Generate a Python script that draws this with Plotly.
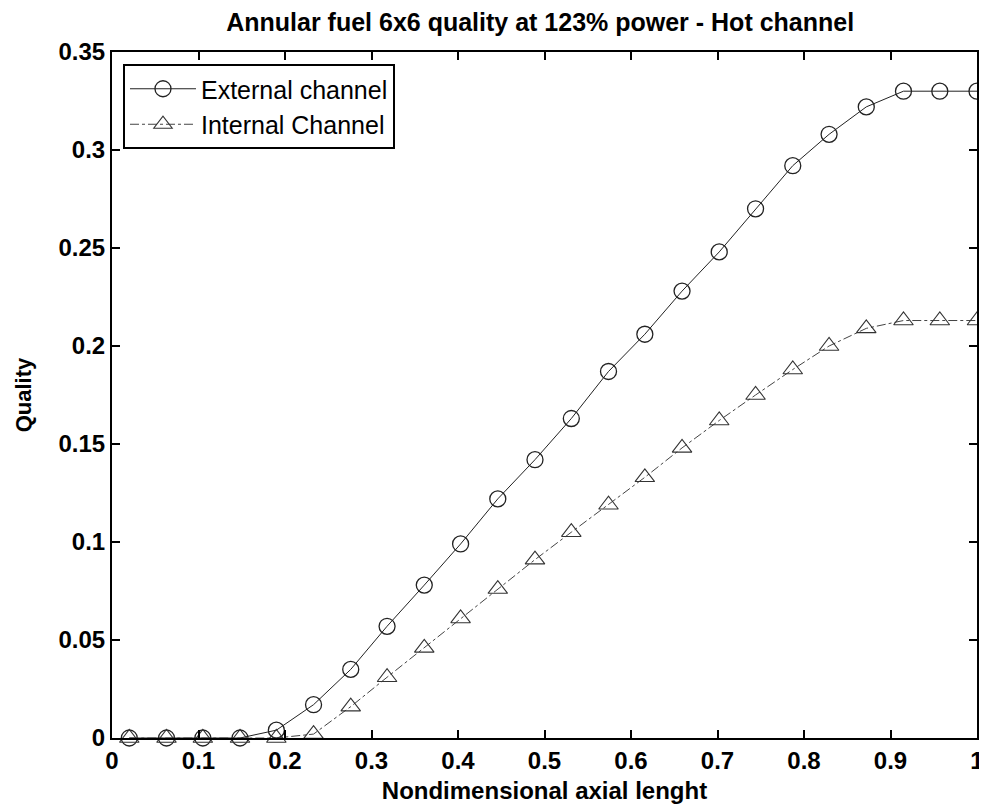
import plotly.graph_objects as go

# axial positions (nondimensional)
axial_pos = [0.020, 0.063, 0.105, 0.148, 0.190, 0.233, 0.276, 0.318, 0.361, 0.403,
             0.446, 0.489, 0.531, 0.574, 0.616, 0.659, 0.702, 0.744, 0.787, 0.829,
             0.872, 0.915, 0.957, 1.000]

quality_external = [0.0, 0.0, 0.0, 0.0, 0.004, 0.017, 0.035, 0.057, 0.078, 0.099,
                    0.122, 0.142, 0.163, 0.187, 0.206, 0.228, 0.248, 0.270, 0.292, 0.308,
                    0.322, 0.330, 0.330, 0.330]

quality_internal = [0.0, 0.0, 0.0, 0.0, 0.0, 0.002, 0.016, 0.031, 0.046, 0.061,
                    0.076, 0.091, 0.105, 0.119, 0.133, 0.148, 0.162, 0.175, 0.188, 0.200,
                    0.209, 0.213, 0.213, 0.213]

x_ticks = [0, 0.1, 0.2, 0.3, 0.4, 0.5, 0.6, 0.7, 0.8, 0.9, 1]
x_tick_text = ["0", "0.1", "0.2", "0.3", "0.4", "0.5", "0.6", "0.7", "0.8", "0.9", "1"]
y_ticks = [0, 0.05, 0.1, 0.15, 0.2, 0.25, 0.3, 0.35]
y_tick_text = ["0", "0.05", "0.1", "0.15", "0.2", "0.25", "0.3", "0.35"]

fig = go.Figure()

fig.add_trace(go.Scatter(
    x=axial_pos, y=quality_external, name="External channel",
    mode="lines+markers", cliponaxis=False,
    line=dict(color="#222222", width=1),
    marker=dict(symbol="circle-open", size=16, color="#222222", line=dict(width=1.3)),
))

fig.add_trace(go.Scatter(
    x=axial_pos, y=quality_internal, name="Internal Channel",
    mode="lines+markers", cliponaxis=False,
    line=dict(color="#444444", width=1, dash="dashdot"),
    marker=dict(symbol="triangle-up-open", size=17, color="#333333", line=dict(width=1.1)),
))

# the page body keeps an 8px margin, so the figure is shrunk to avoid scrollbars
fig.update_layout(
    width=971, height=796,
    margin=dict(l=104, r=2, t=44, b=66),
    paper_bgcolor="white",
    plot_bgcolor="white",
    font=dict(family="Arial", color="black"),
    title=dict(
        text="<b>Annular fuel 6x6 quality at 123% power - Hot channel</b>",
        x=0.495, xref="paper", y=0.982, yref="container", yanchor="middle",
        font=dict(size=25, color="black"),
    ),
    legend=dict(
        x=0.0127, y=0.9825, xanchor="left", yanchor="top",
        bgcolor="white", bordercolor="black", borderwidth=2,
        font=dict(size=25),
        itemwidth=66,
    ),
    showlegend=True,
)

fig.update_xaxes(
    range=[0, 1], tickvals=x_ticks, ticktext=x_tick_text,
    showline=True, linecolor="black", linewidth=2, mirror="ticks",
    ticks="inside", ticklen=8, tickwidth=2, tickcolor="black",
    showgrid=False, zeroline=False, automargin=False,
    ticklabeloverflow="allow",
    tickfont=dict(size=24, weight="bold"),
    title=dict(text="<b>Nondimensional axial lenght</b>", font=dict(size=24), standoff=16),
)
fig.update_yaxes(
    range=[0, 0.35], tickvals=y_ticks, ticktext=y_tick_text,
    showline=True, linecolor="black", linewidth=2, mirror="ticks",
    ticks="inside", ticklen=8, tickwidth=2, tickcolor="black",
    showgrid=False, zeroline=False, automargin=False,
    tickfont=dict(size=24, weight="bold"),
    title=dict(text="<b>Quality</b>", font=dict(size=22), standoff=21),
)

fig.write_html("out.html")
